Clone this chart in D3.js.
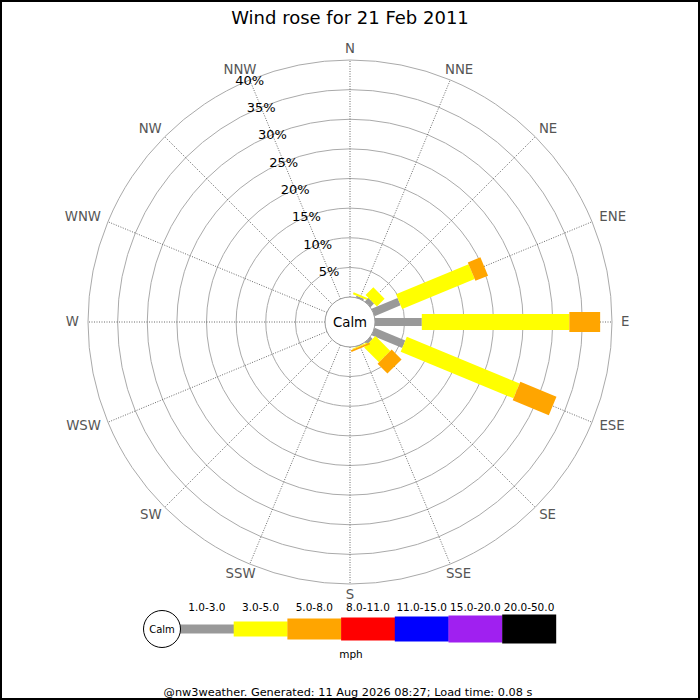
<!DOCTYPE html>
<html>
<head>
<meta charset="utf-8">
<script src="https://cdn.jsdelivr.net/npm/d3@7"></script>
<style>
body{margin:0;padding:0;background:#fff;}
svg{display:block;font-family:"DejaVu Sans",sans-serif;}
</style>
</head>
<body>
<svg id="chart" width="700" height="700"></svg>
<script>
// ---- data ----
const directions = ["N","NNE","NE","ENE","E","ESE","SE","SSE","S","SSW","SW","WSW","W","WNW","NW","NNW"];
const speedClasses = ["1.0-3.0","3.0-5.0","5.0-8.0","8.0-11.0","11.0-15.0","15.0-20.0","20.0-50.0"];
const speedColors = ["#999999","#ffff00","#ffa500","#ff0000","#0000ff","#a020f0","#000000"];
// percentage per direction, per speed class
const class1 = [0, 0.3, 0.85, 4.75, 7.9, 5.6, 0.5, 0.1, 0,0,0,0,0,0,0,0];
const class2 = [0, 0.35, 1.85, 13.25, 24.9, 20.6, 3.55, 0.15, 0,0,0,0,0,0,0,0];
const class3 = [0, 0, 0, 2.3, 5.2, 6.6, 2.35, 0.3, 0,0,0,0,0,0,0,0];
const class4 = [0,0,0,0,0,0,0,0,0,0,0,0,0,0,0,0];
const class5 = [0,0,0,0,0,0,0,0,0,0,0,0,0,0,0,0];
const class6 = [0,0,0,0,0,0,0,0,0,0,0,0,0,0,0,0];
const class7 = [0,0,0,0,0,0,0,0,0,0,0,0,0,0,0,0];
const ringTicks = [5,10,15,20,25,30,35,40];
const ringLabels = ["5%","10%","15%","20%","25%","30%","35%","40%"];
const title = "Wind rose for 21 Feb 2011";
const footer = "@nw3weather. Generated: 11 Aug 2026 08:27; Load time: 0.08 s";

const seriesByClass = [class1,class2,class3,class4,class5,class6,class7];

// ---- layout ----
const svg = d3.select("#chart");
const cx = 350, cy = 322, calmR = 25, outerR = 262;
const barWidths = [8,16,20,23,25,27,29];
const legendHeights = [9,15,21,23,25,27,29];

const r = d3.scaleLinear().domain([0,40]).range([calmR, outerR]);
const angle = d3.scalePoint().domain(directions).range([0, 337.5]);

svg.append("rect").attr("x",1).attr("y",1).attr("width",698).attr("height",698)
  .attr("fill","#fff").attr("stroke","#000").attr("stroke-width",2);

svg.append("text").attr("x",350).attr("y",24).attr("text-anchor","middle")
  .attr("font-size",18).attr("fill","#000").text(title);

const g = svg.append("g").attr("transform",`translate(${cx},${cy})`);

// rings
g.selectAll("circle.ring").data(ringTicks).join("circle")
  .attr("class","ring").attr("r",d=>r(d)).attr("fill","none")
  .attr("stroke","#aaaaaa").attr("stroke-width",1);

// radial lines
const rad = a => a*Math.PI/180;
g.selectAll("line.spoke").data(directions).join("line")
  .attr("x1",d=>calmR*Math.sin(rad(angle(d)))).attr("y1",d=>-calmR*Math.cos(rad(angle(d))))
  .attr("x2",d=>outerR*Math.sin(rad(angle(d)))).attr("y2",d=>-outerR*Math.cos(rad(angle(d))))
  .attr("stroke","#444").attr("stroke-width",0.8).attr("stroke-dasharray","1,1.5");

// bars
directions.forEach((dir,i)=>{
  const a = angle(dir);
  const bg = g.append("g").attr("transform",`rotate(${a})`);
  let cum = 0;
  seriesByClass.forEach((ser,k)=>{
    const v = ser[i];
    if(v<=0) return;
    const r0 = r(cum), r1 = r(cum+v);
    cum += v;
    bg.append("rect")
      .attr("x",-barWidths[k]/2).attr("width",barWidths[k])
      .attr("y",-r1).attr("height",r1-r0)
      .attr("fill",speedColors[k]);
  });
});

// calm circle
g.append("circle").attr("r",calmR).attr("fill","#fff").attr("stroke","#999").attr("stroke-width",1);
g.append("text").attr("x",0).attr("y",0).attr("dy","0.36em").attr("text-anchor","middle")
  .attr("font-size",13.3).attr("fill","#000").text("Calm");

// ring labels along NNW
const nnw = rad(angle("NNW"));
g.selectAll("text.rl").data(ringTicks).join("text")
  .attr("class","rl")
  .attr("x",(d)=>r(d)*Math.sin(nnw)).attr("y",d=>-r(d)*Math.cos(nnw))
  .attr("dy","0.36em").attr("text-anchor","middle").attr("font-size",13).attr("fill","#000")
  .text((d,i)=>ringLabels[i]);

// direction labels
g.selectAll("text.dl").data(directions).join("text")
  .attr("class","dl").attr("font-size",13.3).attr("fill","#555")
  .attr("text-anchor","middle").attr("dy","0.36em")
  .text(d=>d)
  .each(function(d){
    const a = rad(angle(d));
    const w = this.getComputedTextLength();
    const s = Math.sin(a), c = Math.cos(a);
    const rr = outerR + 9;
    d3.select(this).attr("x", rr*s + s*w/2).attr("y", -rr*c - c*2 - 1);
  });

// legend
const lx0 = 180, segW = 53.7, ly = 629;
const lg = svg.append("g");
const lx = d3.scaleLinear().domain([0, speedClasses.length]).range([lx0, lx0 + segW*speedClasses.length]);
lg.selectAll("rect").data(speedClasses).join("rect")
  .attr("x",(d,i)=>lx(i)).attr("width",segW+0.3)
  .attr("y",(d,i)=>ly-legendHeights[i]/2).attr("height",(d,i)=>legendHeights[i])
  .attr("fill",(d,i)=>speedColors[i]);
lg.selectAll("text").data(speedClasses).join("text")
  .attr("x",(d,i)=>lx(i)+segW/2).attr("y",611).attr("text-anchor","middle")
  .attr("font-size",10.5).attr("fill","#000").text(d=>d);
lg.append("circle").attr("cx",162).attr("cy",ly).attr("r",18.5).attr("fill","#fff").attr("stroke","#000").attr("stroke-width",1);
lg.append("text").attr("x",162).attr("y",ly).attr("dy","0.36em").attr("text-anchor","middle")
  .attr("font-size",10).attr("fill","#000").text("Calm");
lg.append("text").attr("x",351).attr("y",658).attr("text-anchor","middle")
  .attr("font-size",10.5).attr("fill","#000").text("mph");

svg.append("text").attr("x",348).attr("y",696).attr("text-anchor","middle")
  .attr("font-size",11.3).attr("fill","#000").text(footer);
</script>
</body>
</html>
